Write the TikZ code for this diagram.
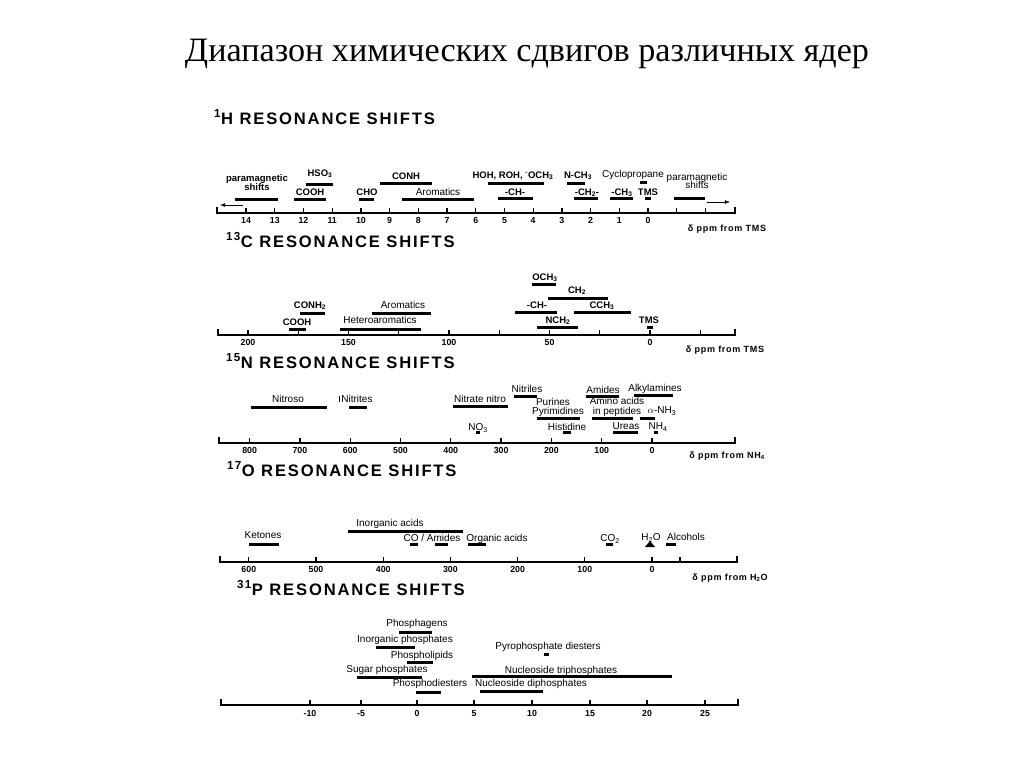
\documentclass[tikz,border=0pt]{standalone}
\usepackage{fontspec}
\setmainfont{Liberation Serif}
\setsansfont{Liberation Sans}
\newfontfamily\headfont[LetterSpace=11]{Liberation Sans}
\newfontfamily\ppmfont[LetterSpace=8]{Liberation Sans}
\begin{document}
\begin{tikzpicture}[x=1pt,y=-1pt,>=latex,
  head/.style={anchor=base west,inner sep=0,font=\headfont\bfseries\fontsize{16.6}{17}\selectfont},
  axis/.style={line width=1.8pt},
  tk/.style={line width=1.3pt},
  bar/.style={line width=3pt},
  num/.style={inner sep=0,text height=6.3pt,text depth=0pt,font=\sffamily\bfseries\fontsize{8.8}{9}\selectfont},
  lb/.style={inner sep=0,text height=6.8pt,text depth=0pt,font=\sffamily\bfseries\fontsize{9.5}{10}\selectfont},
  lr/.style={inner sep=0,text height=7.2pt,text depth=0pt,align=center,font=\sffamily\fontsize{10}{9.5}\selectfont},
  ppm/.style={inner sep=0,text height=6.5pt,text depth=0pt,font=\ppmfont\bfseries\fontsize{9}{9}\selectfont}]
	\useasboundingbox (0,0) rectangle (1024,768);
	\fill[white] (0,0) rectangle (1024,768);
	\node[anchor=base,inner sep=0,font=\fontsize{34.2}{36}\selectfont] (title) at (527,61) {Диапазон химических сдвигов различных ядер};
	% 1H
	\begin{scope}
		\node[head] (hH) at (214,124) {\textsuperscript{1}H RESONANCE SHIFTS};
		\draw[axis] (217,207)--(217,213)--(735,213)--(735,207);
		\foreach \v in {-2,...,14} \draw[tk] ({648-28.71*(\v)},213)--++(0,-5);
		\foreach \v in {0,...,14} \node[num] at ({648-28.71*(\v)},220) {\v};
		\node[lb,align=center] (pmL) at (257,187) {paramagnetic\\[-1pt]shifts};
		\node[lb] (hso) at (320,173) {HSO\textsubscript{3}};
		\node[lb] (hcooh) at (310,192) {COOH};
		\node[lb] (hcho) at (367,192) {CHO};
		\node[lb] (hconh) at (406,176) {CONH};
		\node[lr] (harom) at (438,192) {Aromatics};
		\node[lb] (hoh) at (513,175) {HOH, ROH, \textsuperscript{-}OCH\textsubscript{3}};
		\node[lb] (hch) at (515,192) {-CH-};
		\node[lb] (hnch) at (578,175) {N-CH\textsubscript{3}};
		\node[lb] (hch2) at (587,192) {-CH\textsubscript{2}-};
		\node[lr] (hcyc) at (633,174) {Cyclopropane};
		\node[lb] (hch3) at (622,192) {-CH\textsubscript{3}};
		\node[lb] (htms) at (648,192) {TMS};
		\node[lr] (pmR) at (697,185) {paramagnetic\\[-1pt]shifts};
		\node[ppm] (hppm) at (727,228) {δ ppm from TMS};
		\draw[bar] (235,199)--(278,199);
		\draw[bar] (306,184)--(333,184);
		\draw[bar] (294,199)--(326,199);
		\draw[bar] (359,199)--(374,199);
		\draw[bar] (380,183)--(432,183);
		\draw[bar] (402,199)--(474,199);
		\draw[bar] (488,183)--(544,183);
		\draw[bar] (498,198)--(533,198);
		\draw[bar] (567,183)--(585,183);
		\draw[bar] (574,198)--(598,198);
		\draw[bar] (640,182)--(647,182);
		\draw[bar] (610,198)--(633,198);
		\draw[bar] (645,198)--(651,198);
		\draw[bar] (674,198)--(705,198);
		\draw[->,thick] (243,205)--(220,205);
		\draw[->,thick] (707,202)--(730,202);
	\end{scope}
	% 13C
	\begin{scope}
		\node[head] (hC) at (226,247) {\textsuperscript{13}C RESONANCE SHIFTS};
		\draw[axis] (218,329)--(218,335)--(735,335)--(735,329);
		\foreach \v in {-25,0,...,200} \draw[tk] ({650-2.01*(\v)},335)--++(0,-5);
		\foreach \v in {0,50,...,200} \node[num] at ({650-2.01*(\v)},342) {\v};
		\node[lb] (ccooh) at (297,322) {COOH};
		\node[lb] (cconh) at (310,305) {CONH\textsubscript{2}};
		\node[lr] (carom) at (403,305) {Aromatics};
		\node[lr] (chet) at (380,320) {Heteroaromatics};
		\node[lb] (coch) at (545,277) {OCH\textsubscript{3}};
		\node[lb] (cch2) at (577,290) {CH\textsubscript{2}};
		\node[lb] (cch) at (537,305) {-CH-};
		\node[lb] (ccch) at (602,305) {CCH\textsubscript{3}};
		\node[lb] (cnch) at (558,320) {NCH\textsubscript{2}};
		\node[lb] (ctms) at (649,320) {TMS};
		\node[ppm] (cppm) at (725,349) {δ ppm from TMS};
		\draw[bar] (289,329)--(306,329);
		\draw[bar] (300,313)--(325,313);
		\draw[bar] (372,313)--(431,313);
		\draw[bar] (340,329)--(421,329);
		\draw[bar] (532,284)--(556,284);
		\draw[bar] (548,298)--(608,298);
		\draw[bar] (515,312)--(557,312);
		\draw[bar] (574,312)--(631,312);
		\draw[bar] (537,327)--(578,327);
		\draw[bar] (647,327)--(653,327);
	\end{scope}
	% 15N
	\begin{scope}
		\node[head] (hN) at (226,368) {\textsuperscript{15}N RESONANCE SHIFTS};
		\draw[axis] (219,437)--(219,443)--(735,443)--(735,437);
		\foreach \v in {0,100,...,800} {
			\draw[tk] ({652-0.503*(\v)},443)--++(0,-5);
			\node[num] at ({652-0.503*(\v)},450) {\v};
		}
		\node[lr] (nnitroso) at (288,399) {Nitroso};
		\draw[thin] (339,396)--(339,402);
		\node[lr] (nnitrite) at (357,399) {Nitrites};
		\node[lr] (nnitrate) at (480,399) {Nitrate nitro};
		\node[lr] (nno) at (478,427) {NO\textsubscript{3}};
		\node[lr] (nnitrile) at (527,389) {Nitriles};
		\node[lr] (npur) at (553,402) {Purines};
		\node[lr] (npyr) at (558,411) {Pyrimidines};
		\node[lr] (nhis) at (567,427) {Histidine};
		\node[lr] (namid) at (603,390) {Amides};
		\node[lr] (nalk) at (655,388) {Alkylamines};
		\node[lr] (namino) at (617,401) {Amino acids};
		\node[lr] (npep) at (617,411) {in peptides};
		\node[lr] (nanh) at (662,410) {$\alpha$-NH\textsubscript{3}};
		\node[lr] (nurea) at (626,426) {Ureas};
		\node[lr] (nnh) at (658,426) {NH\textsubscript{4}};
		\node[ppm] (nppm) at (727,455) {δ ppm from NH\textsubscript{4}};
		\draw[bar] (251,407)--(327,407);
		\draw[bar] (349,407)--(367,407);
		\draw[bar] (453,406)--(508,406);
		\draw[bar] (476,432)--(480,432);
		\draw[bar] (514,396)--(537,396);
		\draw[bar] (537,418)--(580,418);
		\draw[bar] (563,432)--(571,432);
		\draw[bar] (586,396)--(619,396);
		\draw[bar] (634,395)--(673,395);
		\draw[bar] (592,418)--(633,418);
		\draw[bar] (640,418)--(655,418);
		\draw[bar] (613,432)--(638,432);
		\draw[bar] (654,432)--(658,432);
	\end{scope}
	% 17O
	\begin{scope}
		\node[head] (hO) at (227,476) {\textsuperscript{17}O RESONANCE SHIFTS};
		\draw[axis] (220,556)--(220,562)--(737,562)--(737,556);
		\foreach \v in {0,100,...,600} {
			\draw[tk] ({652-0.672*(\v)},562)--++(0,-5);
			\node[num] at ({652-0.672*(\v)},569) {\v};
		}
		\draw[tk] (680,562)--++(0,-5);
		\node[lr] (oket) at (263,535) {Ketones};
		\node[lr] (oinorg) at (390,523) {Inorganic acids};
		\node[lr] (ocoam) at (432,538) {CO / Amides};
		\node[lr] (oorg) at (497,538) {Organic acids};
		\node[lr] (oco) at (610,538) {CO\textsubscript{2}};
		\node[lr] (ohoh) at (651,537) {H\textsubscript{2}O};
		\node[lr] (oalc) at (686,537) {Alcohols};
		\node[ppm] (oppm) at (730,577) {δ ppm from H\textsubscript{2}O};
		\draw[bar] (249,544)--(279,544);
		\draw[bar] (348,531)--(463,531);
		\draw[bar] (410,544)--(418,544);
		\draw[bar] (435,544)--(448,544);
		\draw[bar] (468,544)--(486,544);
		\draw[bar] (606,544)--(613,544);
		\draw[bar] (666,544)--(676,544);
		\fill (645,547)--(650,541)--(655,547)--cycle;
	\end{scope}
	% 31P
	\begin{scope}
		\node[head] (hP) at (237,595) {\textsuperscript{31}P RESONANCE SHIFTS};
		\draw[axis] (221,699)--(221,705)--(738,705)--(738,699);
		\foreach \x/\v in {310/-10,361/-5,417/0,474/5,532/10,590/15,647/20,705/25} {
			\draw[tk] (\x,705)--++(0,-5);
			\node[num] at (\x,713) {\v};
		}
		\node[lr] (pphag) at (417,623) {Phosphagens};
		\node[lr] (pinorg) at (405,639) {Inorganic phosphates};
		\node[lr] (plip) at (422,655) {Phospholipids};
		\node[lr] (psug) at (387,669) {Sugar phosphates};
		\node[lr] (pdiest) at (430,683) {Phosphodiesters};
		\node[lr] (ppyro) at (548,646) {Pyrophosphate diesters};
		\node[lr] (ptri) at (561,670) {Nucleoside triphosphates};
		\node[lr] (pdi) at (531,683) {Nucleoside diphosphates};
		\draw[bar] (399,632)--(432,632);
		\draw[bar] (376,647)--(415,647);
		\draw[bar] (407,662)--(433,662);
		\draw[bar] (357,677)--(422,677);
		\draw[bar] (416,692)--(441,692);
		\draw[bar] (544,654)--(549,654);
		\draw[bar] (472,676)--(672,676);
		\draw[bar] (480,691)--(543,691);
	\end{scope}
\end{tikzpicture}
\end{document}
